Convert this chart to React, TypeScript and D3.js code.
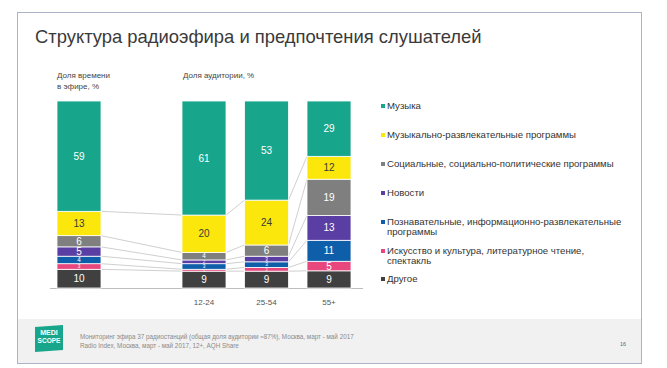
import React from "react";
import * as d3 from "d3";

const categories = [
  "Музыка",
  "Музыкально-развлекательные программы",
  "Социальные, социально-политические программы",
  "Новости",
  "Познавательные, информационно-развлекательные программы",
  "Искусство и культура, литературное чтение, спектакль",
  "Другое",
];
const legendLines = [
  ["Музыка"],
  ["Музыкально-развлекательные программы"],
  ["Социальные, социально-политические программы"],
  ["Новости"],
  ["Познавательные, информационно-развлекательные", "программы"],
  ["Искусство и культура, литературное чтение,", "спектакль"],
  ["Другое"],
];
const colors = ["#17a68b", "#fbe70c", "#7f7f7f", "#5a3ea3", "#0f5ea9", "#e8477e", "#404040"];
const labelColors = ["#ffffff", "#3a3a3a", "#ffffff", "#ffffff", "#ffffff", "#ffffff", "#ffffff"];

const columns = ["air", "gap", "12-24", "25-54", "55+"];
const columnLabels = ["", "", "12-24", "25-54", "55+"];
const airtime = [59, 13, 6, 5, 4, 3, 10];
const aud1224 = [61, 20, 4, 2, 3, 1, 9];
const aud2554 = [53, 24, 6, 3, 3, 2, 9];
const aud55 = [29, 12, 19, 13, 11, 5, 9];

const drawn: { key: string; values: number[] }[] = [
  { key: "air", values: airtime },
  { key: "12-24", values: aud1224 },
  { key: "25-54", values: aud2554 },
  { key: "55+", values: aud55 },
];

const W = 667;
const H = 368;

export default function App() {
  const x = d3.scaleBand<string>().domain(columns).range([57, 351]).paddingInner(0.296).paddingOuter(0);
  const y = d3.scaleLinear().domain([0, 100]).range([288, 101]);
  const bw = x.bandwidth();

  const stacks = drawn.map((col) => {
    const total = d3.sum(col.values);
    const segs: { i: number; y0: number; y1: number; v: number }[] = [];
    let acc = 0;
    for (let i = categories.length - 1; i >= 0; i--) {
      const v = (col.values[i] / total) * 100;
      segs.push({ i, y0: acc, y1: acc + v, v: col.values[i] });
      acc += v;
    }
    return { key: col.key, segs };
  });

  const connectors: JSX.Element[] = [];
  for (let c = 0; c < stacks.length - 1; c++) {
    const a = stacks[c];
    const b = stacks[c + 1];
    const xa = (x(a.key) as number) + bw;
    const xb = x(b.key) as number;
    for (let s = 0; s < a.segs.length - 1; s++) {
      connectors.push(
        <line key={`c${c}-${s}`} x1={xa} x2={xb} y1={y(a.segs[s].y1)} y2={y(b.segs[s].y1)} stroke="#c9c9c9" strokeWidth={0.9} />
      );
    }
  }

  const legendY = [109, 138, 167, 196, 225, 254, 282];

  return (
    <svg width={W} height={H} style={{ position: "absolute", left: 0, top: 0, fontFamily: "'Liberation Sans', Arial, sans-serif" }}>
      <rect x={0} y={0} width={W} height={H} fill="#ffffff" />
      <rect x={17.5} y={12.5} width={624} height={351} fill="#ffffff" stroke="#a9b5c7" strokeWidth={1} />
      <rect x={18} y={319} width={623} height={44} fill="#f1f1f1" />
      <text x={35} y={43} fontSize={18.4} fill="#3a3a3a">Структура радиоэфира и предпочтения слушателей</text>

      <text x={57} y={78} fontSize={8} fill="#444">Доля времени</text>
      <text x={57} y={89} fontSize={8} fill="#444">в эфире, %</text>
      <text x={183} y={78} fontSize={8} fill="#444">Доля аудитории, %</text>

      {connectors}

      <line x1={50} x2={363} y1={288.5} y2={288.5} stroke="#bdbdbd" strokeWidth={1} />

      {stacks.map((st) => (
        <g key={st.key}>
          {st.segs.map((s) => {
            const top = y(s.y1);
            const h = y(s.y0) - y(s.y1);
            const fs = h >= 9 ? 10 : Math.max(4, h * 0.85);
            return (
              <g key={s.i}>
                <rect x={x(st.key)} y={top} width={bw} height={h} fill={colors[s.i]} stroke="#ffffff" strokeWidth={0.8} />
                <text x={(x(st.key) as number) + bw / 2} y={top + h / 2} dy="0.36em" textAnchor="middle" fontSize={fs} fill={labelColors[s.i]}>
                  {s.v}
                </text>
              </g>
            );
          })}
        </g>
      ))}

      {columns.map((c, i) =>
        columnLabels[i] ? (
          <text key={c} x={(x(c) as number) + bw / 2} y={305} textAnchor="middle" fontSize={8} fill="#555">
            {columnLabels[i]}
          </text>
        ) : null
      )}

      {categories.map((cat, i) => (
        <g key={cat}>
          <rect x={381} y={legendY[i] - 5} width={4} height={4} fill={colors[i]} />
          {legendLines[i].map((ln, j) => (
            <text key={j} x={387} y={legendY[i] + j * 10} fontSize={9.6} fill="#333">
              {ln}
            </text>
          ))}
        </g>
      ))}

      <g>
        <polygon points="35,327 63,325 63,350 35,352" fill="#17a68b" />
        <text x={49} y={335} textAnchor="middle" fontSize={7} fontWeight="bold" fill="#ffffff">MEDI</text>
        <text x={49} y={343} textAnchor="middle" fontSize={6.5} fontWeight="bold" fill="#ffffff">SCOPE</text>
      </g>
      <text x={80} y={339} fontSize={6.3} fill="#8a8a8a">Мониторинг эфира 37 радиостанций (общая доля аудитории ≈87%), Москва, март - май 2017</text>
      <text x={80} y={348} fontSize={6.3} fill="#8a8a8a">Radio Index, Москва, март - май 2017, 12+, AQH Share</text>
      <text x={620} y={346} fontSize={5.5} fill="#666">16</text>
    </svg>
  );
}
